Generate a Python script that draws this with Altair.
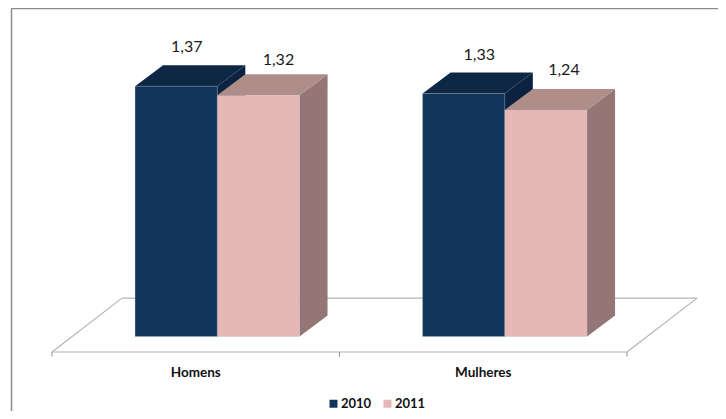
import altair as alt
import pandas as pd

categories = ["Homens", "Mulheres"]
series = ["2010", "2011"]
values_2010 = [1.37, 1.33]
values_2011 = [1.32, 1.24]
value_labels = {1.37: "1,37", 1.32: "1,32", 1.33: "1,33", 1.24: "1,24"}

FRONT = {"2010": "#12365B", "2011": "#E6B7B7"}
TOP = {"2010": "#0E2745", "2011": "#AF8D88"}
SIDE = {"2010": "#0B2340", "2011": "#937675"}

BAR_START = 0.289
BAR_W = 0.286
DX, DY = 0.0974, 0.115
FLOOR_DX = 0.2435
FLOOR_FRONT, FLOOR_BACK = -0.085, 0.21
W, H = 710, 403
x_scale = alt.Scale(domain=[-0.15304, 2.3165], nice=False, zero=False)
y_scale = alt.Scale(domain=[-0.4078, 1.798], nice=False, zero=False)

# label offsets in pixels from the top-back edge of each bar
nudges = {("Homens", "2010"): (10.5, -18), ("Homens", "2011"): (20, -14),
          ("Mulheres", "2010"): (15.5, -17), ("Mulheres", "2011"): (18, -18.5)}

front, side, top = [], [], []
for c, cat in enumerate(categories):
    for s, (ser, vals) in enumerate(zip(series, [values_2010, values_2011])):
        v = vals[c]
        xl = c + BAR_START + s * BAR_W
        xr = xl + BAR_W
        bid = f"{s}-{cat}"
        front.append(dict(cat=cat, ser=ser, v=v, xl=xl, xr=xr, base=0.0))
        side += [dict(id=bid, x=xr, hi=v, lo=0.0, col=SIDE[ser]),
                 dict(id=bid, x=xr + DX, hi=v + DY, lo=DY, col=SIDE[ser])]
        top += [dict(id=bid, y=v, a=xl, b=xr, col=TOP[ser]),
                dict(id=bid, y=v + DY, a=xl + DX, b=xr + DX, col=TOP[ser])]
front = pd.DataFrame(front)
side = pd.DataFrame(side)
top = pd.DataFrame(top)

X = lambda f: alt.X(f, type="quantitative", scale=x_scale, axis=None)
Y = lambda f: alt.Y(f, type="quantitative", scale=y_scale, axis=None, stack=None)

# floor
floor_color = "#B4B4B4"
floor = pd.DataFrame([
    dict(x=0, x2=2, y=FLOOR_FRONT, y2=FLOOR_FRONT),
    dict(x=FLOOR_DX, x2=2 + FLOOR_DX, y=FLOOR_BACK, y2=FLOOR_BACK),
    dict(x=0, x2=FLOOR_DX, y=FLOOR_FRONT, y2=FLOOR_BACK),
    dict(x=2, x2=2 + FLOOR_DX, y=FLOOR_FRONT, y2=FLOOR_BACK),
])
floor_lines = alt.Chart(floor).mark_rule(color=floor_color, strokeWidth=1.2).encode(
    x=X("x"), x2="x2", y=Y("y"), y2="y2")
ticks = alt.Chart(pd.DataFrame({"x": [0, 1, 2], "y": [FLOOR_FRONT] * 3, "y2": [FLOOR_FRONT - 0.025] * 3})
                  ).mark_rule(color="#8C8C8C", strokeWidth=1).encode(x=X("x"), y=Y("y"), y2="y2")

frame_l = alt.Chart(pd.DataFrame({"a": [0]})).mark_rule(color="#8A8A8A", strokeWidth=1.5).encode(
    x=alt.value(3.5), y=alt.value(0.5), y2=alt.value(H))
frame_t = alt.Chart(pd.DataFrame({"a": [0]})).mark_rule(color="#8A8A8A", strokeWidth=1.5).encode(
    y=alt.value(0.5), x=alt.value(3.5), x2=alt.value(W))

sides = alt.Chart(side).mark_area(orient="vertical").encode(
    x=X("x"), y=Y("hi"), y2="lo", detail="id:N", fill=alt.Fill("col:N", scale=None), order=alt.Order("id:N"))
tops = alt.Chart(top).mark_area(orient="horizontal").encode(
    y=Y("y"), x=alt.X("a", type="quantitative", scale=x_scale, axis=None, stack=None), x2="b",
    detail="id:N", fill=alt.Fill("col:N", scale=None), order=alt.Order("id:N"))

fronts = alt.Chart(front).mark_rect(strokeWidth=0.6, stroke="#AEB8C4", strokeOpacity=0.4).encode(
    x=X("xl"), x2="xr", y=Y("v"), y2="base",
    color=alt.Color("ser:N", scale=alt.Scale(domain=series, range=[FRONT[s] for s in series]),
                    legend=alt.Legend(title=None, orient="none", legendX=319, legendY=389,
                                      direction="horizontal", symbolType="square", symbolSize=64,
                                      symbolStrokeWidth=0, labelFont="Lato", labelFontWeight="bold",
                                      labelFontSize=13, labelColor="#111111", columnPadding=9,
                                      labelOffset=1, padding=0)))

layers = [floor_lines, ticks, frame_l, frame_t, sides, tops, fronts]

for _, r in front.iterrows():
    dx, dy = nudges[(r["cat"], r["ser"])]
    d = pd.DataFrame([dict(x=(r["xl"] + r["xr"]) / 2, y=r["v"] + DY, t=value_labels[r["v"]])])
    layers.append(alt.Chart(d).mark_text(font="Lato", fontSize=16, color="#1A1A1A", dx=dx, dy=dy).encode(
        x=X("x"), y=Y("y"), text="t:N"))

cat_df = pd.DataFrame({"x": [0.5, 1.5], "y": [FLOOR_FRONT - 0.113] * 2, "t": categories})
layers.append(alt.Chart(cat_df).mark_text(font="Lato", fontSize=13.5, fontWeight="bold", color="#111111").encode(
    x=X("x"), y=Y("y"), text="t:N"))

chart = alt.layer(*layers).resolve_scale(fill="independent").properties(
    width=W, height=H, padding=0, autosize="none",
    background="white",
).configure_view(stroke=None)
chart.save("out.html", embed_options={"renderer": "svg", "actions": False})
